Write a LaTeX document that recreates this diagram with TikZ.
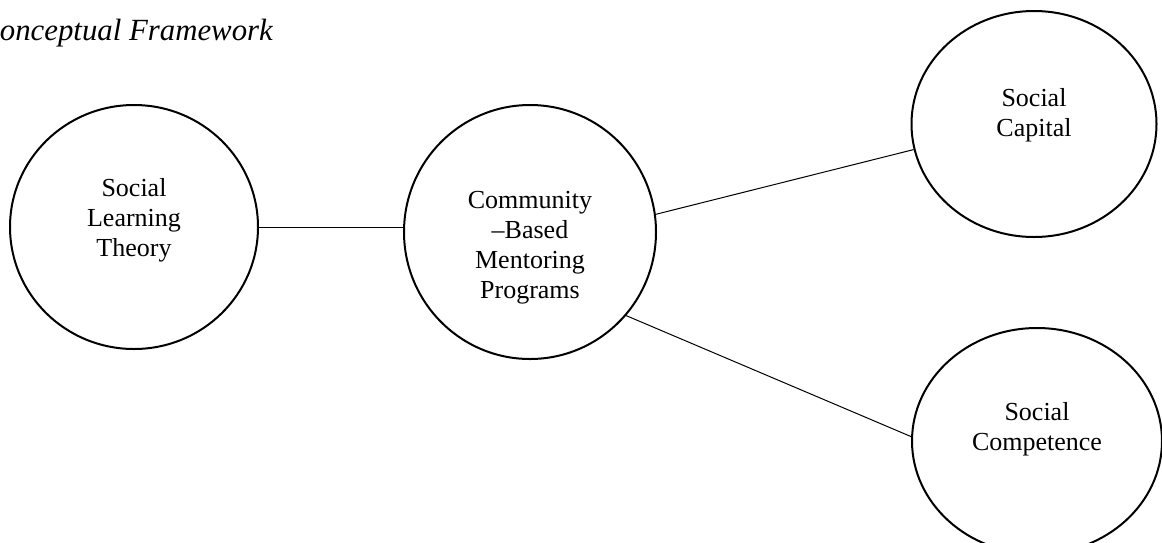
\documentclass[tikz,border=0pt]{standalone}
\usepackage{fontspec}
\setmainfont{Liberation Serif}
\usetikzlibrary{shapes.geometric}
\begin{document}
\begin{tikzpicture}[x=1pt,y=-1pt,
  concept/.style={draw=black,line width=2pt,ellipse,inner sep=0pt},
  label/.style={align=center,font=\fontsize{26}{30}\selectfont,inner sep=0pt},
  link/.style={draw=black,line width=1pt}]
\useasboundingbox (0,0) rectangle (1162,542);
\node[anchor=base east,inner sep=0pt,font=\fontsize{30.8}{36}\selectfont\itshape] (title) at (273,40) {onceptual Framework};
\node[concept,minimum width=248pt,minimum height=244pt] (slt) at (134,227) {};
\node[concept,minimum width=252pt,minimum height=254pt] (cbm) at (530,232) {};
\node[concept,minimum width=245pt,minimum height=226pt] (sc) at (1034,124) {};
\node[concept,minimum width=250pt,minimum height=226pt] (scomp) at (1037,441) {};
\node[label] (slt-t) at (134,220) {Social\\Learning\\Theory};
\node[label] (cbm-t) at (530,248) {Community\\–Based\\Mentoring\\Programs};
\node[label] (sc-t) at (1034,115) {Social\\Capital};
\node[label] (scomp-t) at (1037,429) {Social\\Competence};
\draw[link] (slt.east) -- (slt.east -| cbm.west);
\draw[link] (cbm.8.5) -- (sc.192);
\draw[link] (cbm.-41) -- (scomp.178);
\end{tikzpicture}
\end{document}
